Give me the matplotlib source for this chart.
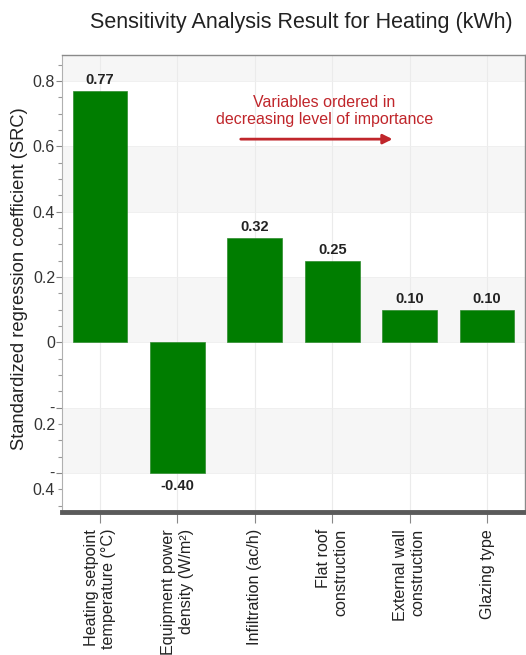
import numpy as np
import matplotlib
matplotlib.use("Agg")
import matplotlib.pyplot as plt
from matplotlib.ticker import MultipleLocator
from matplotlib.transforms import ScaledTranslation

plt.rcParams['font.family'] = ['Liberation Sans', 'DejaVu Sans']

# data
variables = ["Heating setpoint\ntemperature (°C)",
             "Equipment power\ndensity (W/m²)",
             "Infiltration (ac/h)",
             "Flat roof\nconstruction",
             "External wall\nconstruction",
             "Glazing type"]
src = [0.77, -0.40, 0.32, 0.25, 0.10, 0.10]
value_labels = ["0.77", "-0.40", "0.32", "0.25", "0.10", "0.10"]
ytick_values = [0.8, 0.6, 0.4, 0.2, 0.0, -0.2, -0.4]
ytick_labels = ["0.8", "0.6", "0.4", "0.2", "0", "-\n0.2", "-\n0.4"]

green = "#007d00"
red = "#c0262b"

fig = plt.figure(figsize=(5.26, 6.55), dpi=100)
ax = fig.add_axes([0.118, 0.218, 0.880, 0.698])

x = np.arange(len(variables))

# alternating background bands
ylo, yhi = -0.52, 0.88
for lo in [-0.4, 0.0, 0.4, 0.8]:
    ax.axhspan(lo, min(lo + 0.2, yhi), color="#f6f6f6", zorder=0, lw=0)
for xi in x:
    ax.axvline(xi, color="#ebebeb", lw=0.8, zorder=0.5)
for yv in ytick_values:
    ax.axhline(yv, color="#eeeeee", lw=0.6, zorder=0.5)

ax.bar(x, src, width=0.71, color=green, edgecolor="#2e8b2e", linewidth=0.5, zorder=2)

for xi, v, lab in zip(x, src, value_labels):
    if v >= 0:
        ax.annotate(lab, (xi, v), xytext=(0, 3), textcoords="offset points",
                    ha="center", va="bottom", fontsize=10.5, fontweight="bold", color="#222222")
    else:
        ax.annotate(lab, (xi, v), xytext=(0, -4), textcoords="offset points",
                    ha="center", va="top", fontsize=10.5, fontweight="bold", color="#222222")

ax.set_xlim(-0.49, 5.49)
ax.set_ylim(ylo, yhi)

ax.set_yticks(ytick_values)
ax.set_yticklabels(ytick_labels)
ax.yaxis.set_minor_locator(MultipleLocator(0.05))
ax.tick_params(axis="y", which="major", length=4, width=0.8, color="#888888",
               labelsize=11.5, labelcolor="#333333", pad=1)
ax.tick_params(axis="y", which="minor", length=3, width=0.8, color="#999999")
for lab in ax.get_yticklabels():
    if "\n" in lab.get_text():
        lab.set_verticalalignment("top")
        lab.set_multialignment("right")
        lab.set_transform(lab.get_transform() + ScaledTranslation(0, 5 / 72, fig.dpi_scale_trans))

ax.set_xticks(x)
ax.set_xticklabels(variables, rotation=90, ha="center", va="top", multialignment="right")
ax.tick_params(axis="x", length=8, width=0.8, color="#888888", labelsize=11.6,
               labelcolor="#222222", pad=4)

ax.set_ylabel("Standardized regression coefficient (SRC)", fontsize=13.2, color="#222222")
ax.yaxis.set_label_coords(-0.074, 0.512)
fig.text(0.572, 0.965, "Sensitivity Analysis Result for Heating (kWh)", ha="center", va="center",
         fontsize=15.5, color="#222222")

# annotation text and arrow
ax.text(0.567, 0.877, "Variables ordered in\ndecreasing level of importance", transform=ax.transAxes,
        ha="center", va="center", fontsize=11.5, color=red, linespacing=1.15)
ax.annotate("", xy=(0.72, 0.816), xytext=(0.38, 0.816), xycoords="axes fraction",
            arrowprops=dict(arrowstyle="-|>", color=red, lw=2, mutation_scale=14))

for side in ["top", "right"]:
    ax.spines[side].set_color("#8a8a8a")
    ax.spines[side].set_linewidth(1.0)
ax.spines["left"].set_color("#b0b0b0")
ax.spines["left"].set_linewidth(0.8)
ax.spines["bottom"].set_color("#5a5a5a")
ax.spines["bottom"].set_linewidth(3.5)

fig.savefig("out.png", dpi=100)
